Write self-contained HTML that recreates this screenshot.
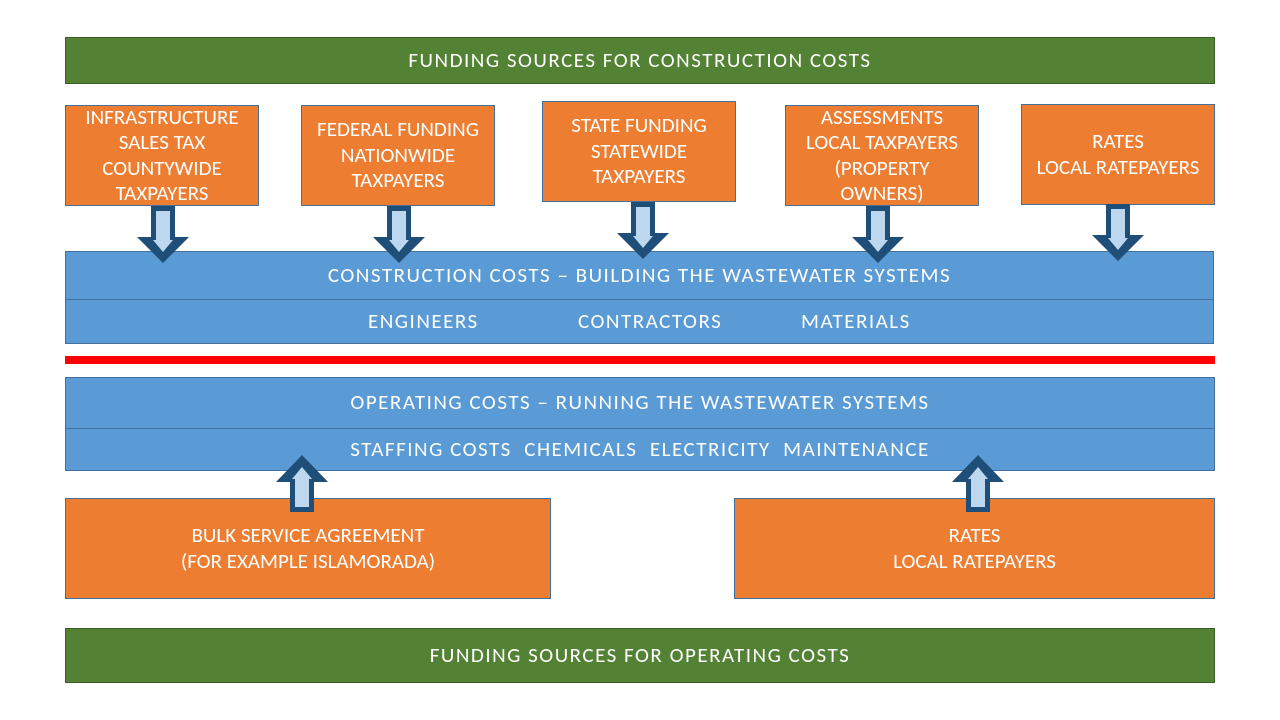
<!DOCTYPE html>
<html><head><meta charset="utf-8"><style>
body{margin:0;width:1280px;height:720px;background:#fff;position:relative;overflow:hidden;font-family:"Carlito","Liberation Sans",sans-serif;}
.b{position:absolute;box-sizing:border-box;color:#fff;display:flex;align-items:center;justify-content:center;text-align:center;font-size:21px;line-height:25.5px;}
.t{font-size:21px;letter-spacing:1.5px;}
.g{background:#548235;border:1px solid #3b5e25;}
.o{background:#ED7D31;border:1px solid #41719C;}
.u{background:#5B9BD5;border:1px solid #41719C;}
svg{position:absolute;left:0;top:0;}
</style></head><body>
<div class="b g t" style="left:65px;top:37px;width:1150px;height:47px;">FUNDING SOURCES FOR CONSTRUCTION COSTS</div>
<div class="b o" style="left:65px;top:105px;width:194px;height:101px;">INFRASTRUCTURE<br>SALES TAX<br>COUNTYWIDE<br>TAXPAYERS</div>
<div class="b o" style="left:301px;top:105px;width:194px;height:101px;">FEDERAL FUNDING<br>NATIONWIDE<br>TAXPAYERS</div>
<div class="b o" style="left:542px;top:101px;width:194px;height:101px;">STATE FUNDING<br>STATEWIDE<br>TAXPAYERS</div>
<div class="b o" style="left:785px;top:105px;width:194px;height:101px;">ASSESSMENTS<br>LOCAL TAXPAYERS<br>(PROPERTY<br>OWNERS)</div>
<div class="b o" style="left:1021px;top:104px;width:194px;height:101px;">RATES<br>LOCAL RATEPAYERS</div>
<div class="b u t" style="left:65px;top:251px;width:1149px;height:49px;">CONSTRUCTION COSTS – BUILDING THE WASTEWATER SYSTEMS</div>
<div class="b u t" style="left:65px;top:299px;width:1149px;height:45px;"><span style="position:absolute;left:302px;top:9px">ENGINEERS</span><span style="position:absolute;left:512px;top:9px">CONTRACTORS</span><span style="position:absolute;left:735px;top:9px">MATERIALS</span></div>
<div style="position:absolute;left:65px;top:356px;width:1150px;height:8px;background:#FF0000;"></div>
<div class="b u t" style="left:65px;top:377px;width:1150px;height:52px;">OPERATING COSTS – RUNNING THE WASTEWATER SYSTEMS</div>
<div class="b u t" style="left:65px;top:428px;width:1150px;height:43px;">STAFFING COSTS&nbsp; CHEMICALS&nbsp; ELECTRICITY&nbsp; MAINTENANCE</div>
<div class="b o" style="left:65px;top:498px;width:486px;height:101px;">BULK SERVICE AGREEMENT<br>(FOR EXAMPLE ISLAMORADA)</div>
<div class="b o" style="left:734px;top:498px;width:481px;height:101px;">RATES<br>LOCAL RATEPAYERS</div>
<div class="b g t" style="left:65px;top:628px;width:1150px;height:55px;">FUNDING SOURCES FOR OPERATING COSTS</div>
<svg width="1280" height="720">
<defs>
<g id="dn"><polygon points="-12,0 12,0 12,31 26,31 0,57 -26,31 -12,31" fill="#1F4E79"/><polygon points="-7,5 7,5 7,34 10,34 0,46 -10,34 -7,34" fill="#BDD7EE"/></g>
<g id="up"><polygon points="-12,0 12,0 12,-30 26,-30 0,-57 -26,-30 -12,-30" fill="#1F4E79"/><polygon points="-7,-5 7,-5 7,-33 10,-33 0,-45 -10,-33 -7,-33" fill="#BDD7EE"/></g>
</defs>
<use href="#dn" x="163" y="206"/>
<use href="#dn" x="399" y="206"/>
<use href="#dn" x="643" y="202"/>
<use href="#dn" x="878" y="206"/>
<use href="#dn" x="1118" y="204"/>
<use href="#up" x="302" y="512"/>
<use href="#up" x="978" y="512"/>
</svg>
</body></html>
